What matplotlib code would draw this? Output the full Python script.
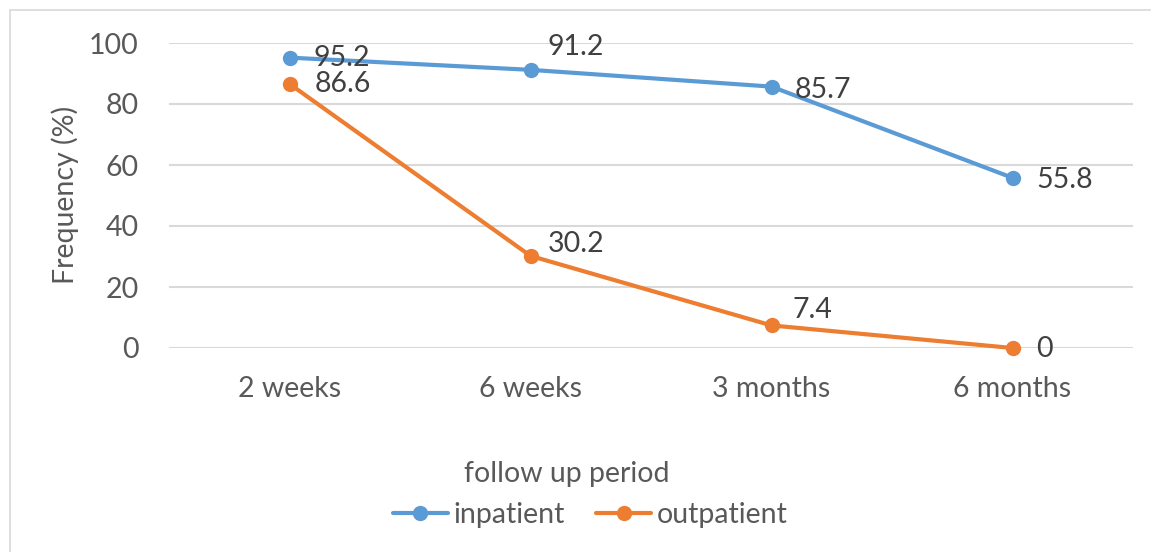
import matplotlib
matplotlib.use("Agg")
import matplotlib.pyplot as plt
from matplotlib.patches import Rectangle

categories = ["2 weeks", "6 weeks", "3 months", "6 months"]
inpatient = [95.2, 91.2, 85.7, 55.8]
outpatient = [86.6, 30.2, 7.4, 0]
yticks = [0, 20, 40, 60, 80, 100]

BLUE = "#5B9BD5"
ORANGE = "#ED7D31"
TXT = "#595959"
GRID = "#D9D9D9"

plt.rcParams["font.family"] = ["Lato", "DejaVu Sans"]
FS = 20.5

fig = plt.figure(figsize=(11.51, 5.52), dpi=100)
W, H = 1151, 552
# outer chart border (only top/left visible)
fig.patches.append(Rectangle((10 / W, -0.1), 1.2, 1 - 10 / H + 0.1,
                             transform=fig.transFigure, fill=False,
                             edgecolor=GRID, linewidth=1.2))

ax = fig.add_axes([169 / W, 1 - 348 / H, 964 / W, 305 / H])
x = list(range(len(categories)))
ax.plot(x, inpatient, color=BLUE, lw=3, marker="o", ms=10, label="inpatient",
        solid_capstyle="round", zorder=3, clip_on=False)
ax.plot(x, outpatient, color=ORANGE, lw=3, marker="o", ms=10, label="outpatient",
        solid_capstyle="round", zorder=3, clip_on=False)

ax.set_xlim(-0.5, len(categories) - 0.5)
ax.set_ylim(0, 100)
ax.set_yticks(yticks)
ax.set_xticks(x)
ax.set_xticklabels(categories)
ax.tick_params(axis="both", length=0, labelsize=FS, labelcolor=TXT)
ax.tick_params(axis="y", pad=22)
ax.tick_params(axis="x", pad=20)
ax.grid(axis="y", color=GRID, lw=1.5)
ax.set_axisbelow(True)
for s in ax.spines.values():
    s.set_visible(False)

# data labels (offsets in pixels)
in_off = [(24, 0), (17, 23), (23, -3), (24, -2)]
out_off = [(25, 0), (17, 12), (21, 15), (24, -1)]
for xi, v, off in zip(x, inpatient, in_off):
    ax.annotate(f"{v:g}", (xi, v), xytext=off, textcoords="offset pixels",
                ha="left", va="center", fontsize=FS, color="#404040")
for xi, v, off in zip(x, outpatient, out_off):
    ax.annotate(f"{v:g}", (xi, v), xytext=off, textcoords="offset pixels",
                ha="left", va="center", fontsize=FS, color="#404040")

ax.set_ylabel("Frequency (%)", fontsize=FS, color=TXT)
ax.yaxis.label.set_va("center")
ax.yaxis.set_label_coords((65 - 169) / 964, (348 - 195) / 305)

ax.set_xlabel("follow up period", fontsize=FS, color=TXT)
ax.xaxis.label.set_va("center")
ax.xaxis.set_label_coords((567 - 169) / 964, (348 - 474) / 305)

leg = fig.legend(loc="center", bbox_to_anchor=(590 / W, 1 - 515 / H), ncol=2,
                 frameon=False, fontsize=FS, handlelength=1.95,
                 handletextpad=0.18, columnspacing=1.1, borderpad=0)
for t in leg.get_texts():
    t.set_color(TXT)

fig.savefig("out.png", dpi=100, facecolor="white")
